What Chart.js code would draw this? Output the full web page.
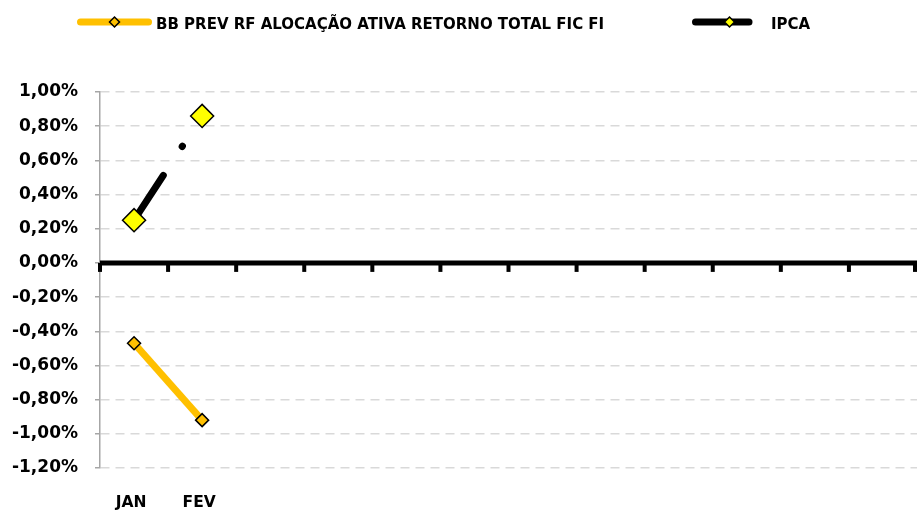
<!DOCTYPE html>
<html>
<head>
<meta charset="utf-8">
<script src="https://cdn.jsdelivr.net/npm/chart.js@4.4.1/dist/chart.umd.min.js"></script>
<style>
  html, body { margin: 0; padding: 0; background: #fff; overflow: hidden; }
  canvas { display: block; }
</style>
</head>
<body>
<canvas id="rentChart" width="917" height="513"></canvas>
<script>
  const meses = ['JAN', 'FEV', '', '', '', '', '', '', '', '', '', ''];
  const fundoLabel = 'BB PREV RF ALOCAÇÃO ATIVA RETORNO TOTAL FIC FI';
  const fundoValores = [-0.47, -0.92];
  const ipcaLabel = 'IPCA';
  const ipcaValores = [0.25, 0.86];
  const yMin = -1.2;
  const yMax = 1.0;
  const yStep = 0.2;

  function formatPct(v) {
    if (Math.abs(v) < 1e-9) v = 0;
    return v.toFixed(2).replace('.', ',') + '%';
  }

  function diamond(ctx, cx, cy, r, fill) {
    ctx.beginPath();
    ctx.moveTo(cx - r, cy);
    ctx.lineTo(cx, cy - r);
    ctx.lineTo(cx + r, cy);
    ctx.lineTo(cx, cy + r);
    ctx.closePath();
    ctx.fillStyle = fill;
    ctx.fill();
    ctx.lineWidth = 1.5;
    ctx.strokeStyle = '#000';
    ctx.stroke();
  }

  // Excel style legend: line sample with the marker in the middle
  const excelLegend = {
    id: 'excelLegend',
    afterDraw(chart) {
      const ctx = chart.ctx;
      const starts = [77, 692];
      const y = 22;
      chart.data.datasets.forEach((ds, i) => {
        const x0 = starts[i];
        const w = ds.borderWidth;
        ctx.save();
        ctx.strokeStyle = ds.borderColor;
        ctx.lineWidth = w;
        ctx.lineCap = 'round';
        ctx.setLineDash(ds.borderDash || []);
        ctx.beginPath();
        ctx.moveTo(x0 + w / 2, y);
        ctx.lineTo(x0 + 75 - w / 2, y);
        ctx.stroke();
        ctx.setLineDash([]);
        diamond(ctx, x0 + 37.5, y, 5, ds.pointBackgroundColor);
        ctx.fillStyle = '#000';
        ctx.font = 'bold 15px "DejaVu Sans"';
        ctx.textBaseline = 'alphabetic';
        ctx.fillText(ds.label, x0 + 79, 29);
        ctx.restore();
      });
    }
  };

  // thick zero line with the category tick marks
  const eixoZero = {
    id: 'eixoZero',
    beforeDatasetsDraw(chart) {
      const { ctx, scales: { x, y } } = chart;
      const y0 = y.getPixelForValue(0);
      const n = chart.data.labels.length;
      const band = x.width / n;
      ctx.save();
      ctx.strokeStyle = '#000';
      ctx.lineWidth = 4;
      for (let i = 0; i <= n; i++) {
        const px = Math.min(x.left + i * band, x.right - 2);
        ctx.beginPath();
        ctx.moveTo(px, y0);
        ctx.lineTo(px, y0 + 9);
        ctx.stroke();
      }
      ctx.lineWidth = 5;
      ctx.beginPath();
      ctx.moveTo(x.left, y0);
      ctx.lineTo(x.right, y0);
      ctx.stroke();
      ctx.restore();
    }
  };

  Chart.defaults.font.family = '"DejaVu Sans"';
  Chart.defaults.color = '#000';

  new Chart(document.getElementById('rentChart'), {
    type: 'line',
    data: {
      labels: meses,
      datasets: [{
        label: fundoLabel,
        data: fundoValores,
        borderColor: '#FFC000',
        backgroundColor: '#FFC000',
        borderWidth: 7,
        tension: 0,
        pointStyle: 'rectRot',
        pointRadius: 6.5,
        pointBackgroundColor: '#FFC000',
        pointBorderColor: '#000',
        pointBorderWidth: 1.5
      }, {
        label: ipcaLabel,
        data: ipcaValores,
        borderColor: '#000',
        backgroundColor: '#000',
        borderWidth: 7,
        borderDash: [53.5, 34.5, 0.5, 40],
        borderCapStyle: 'round',
        tension: 0,
        pointStyle: 'rectRot',
        pointRadius: 11.5,
        pointBackgroundColor: '#FFFF00',
        pointBorderColor: '#000',
        pointBorderWidth: 1.5
      }]
    },
    options: {
      responsive: false,
      animation: false,
      layout: {
        autoPadding: false,
        padding: { top: 92, right: 0, bottom: 0, left: 0 }
      },
      scales: {
        x: {
          offset: true,
          grid: { display: false, drawTicks: false },
          border: { display: false },
          ticks: {
            padding: 26,
            labelOffset: -3,
            autoSkip: false,
            maxRotation: 0,
            font: { size: 15.5, weight: 'bold' }
          },
          afterFit: scale => {
            scale.height = 45;
            scale.paddingLeft = 0;
            scale.paddingRight = 0;
          }
        },
        y: {
          min: yMin,
          max: yMax,
          ticks: {
            stepSize: yStep,
            padding: 17,
            font: { size: 17, weight: 'bold' },
            callback: v => formatPct(v)
          },
          grid: {
            color: '#d9d9d9',
            lineWidth: 1.5,
            tickLength: 5,
            tickColor: '#a6a6a6',
            tickWidth: 1.5,
            tickBorderDash: []
          },
          border: { display: true, color: '#a6a6a6', width: 1.5, dash: [9, 6] },
          afterFit: scale => { scale.width = 100; }
        }
      },
      plugins: {
        legend: { display: false },
        tooltip: { enabled: false }
      }
    },
    plugins: [excelLegend, eixoZero]
  });
</script>
</body>
</html>
